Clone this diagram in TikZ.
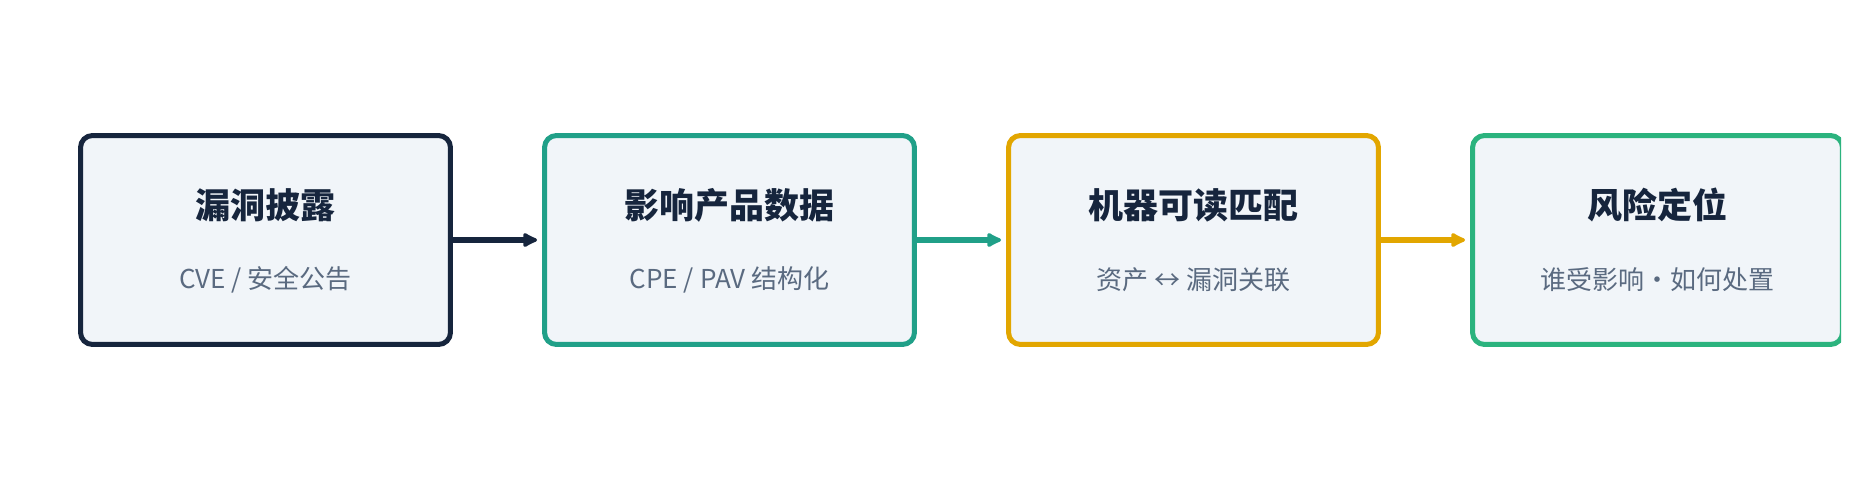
\documentclass[tikz,border=0pt]{standalone}
\usepackage{fontspec}
\setmainfont{Noto Sans CJK SC}
\usetikzlibrary{arrows.meta, positioning}
\definecolor{navyflow}{RGB}{22,37,61}
\definecolor{tealflow}{RGB}{32,160,136}
\definecolor{amberflow}{RGB}{226,166,0}
\definecolor{greenflow}{RGB}{43,179,126}
\definecolor{boxfill}{RGB}{241,245,249}
\definecolor{subgray}{RGB}{90,106,128}

\begin{document}
\begin{tikzpicture}[x=0.02cm, y=-0.02cm,
        stage/.style={rectangle, rounded corners=0.24cm, line width=2.85pt, fill=boxfill,
                      minimum width=7.4cm, minimum height=4.18cm},
        headtext/.style={font=\bfseries\fontsize{19.9}{24}\selectfont, text=navyflow},
        subtext/.style={font=\fontsize{14.8}{18}\selectfont, text=subgray},
        flow/.style={-{Latex[length=10pt, width=10pt, round]}, line width=2.85pt,
                     shorten >=0.1cm}
    ]
        \useasboundingbox (0,0) rectangle (1859,480);
        \begin{scope}
        \clip (0,0) rectangle (1841,480);
        \foreach \i/\x/\c/\t/\s in {
            1/265.5/navyflow/{漏洞披露}/{CVE / 安全公告},
            2/729.5/tealflow/{影响产品数据}/{CPE / PAV 结构化},
            3/1193.5/amberflow/{机器可读匹配}/{资产 ↔ 漏洞关联},
            4/1657.5/greenflow/{风险定位}/{谁受影响・如何处置}}
        {
            \node[stage, draw=\c] (b\i) at (\x,240) {};
            \node[headtext] (t\i) at (\x,205) {\t};
            \node[subtext] (s\i) at (\x,280) {\s};
        }
        \foreach \a/\b/\c in {1/2/navyflow, 2/3/tealflow, 3/4/amberflow}
            \draw[flow, \c] (b\a) -- (b\b);
        \end{scope}
    \end{tikzpicture}
\end{document}
